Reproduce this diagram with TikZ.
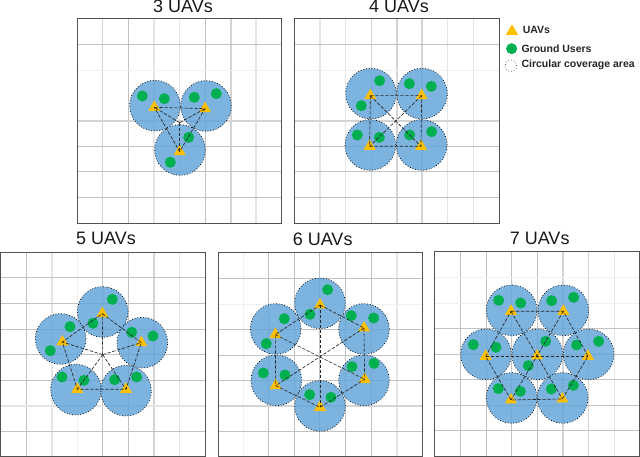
\documentclass[tikz,border=0pt]{standalone}
\usepackage{fontspec}
\setmainfont{Liberation Sans}
\usetikzlibrary{shapes.geometric}
\definecolor{covfill}{RGB}{96,163,217}
\definecolor{uavcol}{RGB}{255,192,0}
\definecolor{usercol}{RGB}{0,176,80}
\tikzset{
  gdark/.style={draw=black!24,line width=.9pt},
  gmid/.style={draw=black!17,line width=1.1pt},
  glight/.style={draw=black!10,line width=1.1pt},
  gfaint/.style={draw=black!6,line width=.8pt},
  panelframe/.style={draw=black!68,line width=.9pt},
  cover/.style={circle,draw=black,dotted,line width=.75pt,fill=covfill,fill opacity=.82,minimum size=50.7pt,inner sep=0pt},
  uav/.style={regular polygon,regular polygon sides=3,fill=uavcol,minimum size=14pt,inner sep=0pt},
  gnduser/.style={circle,fill=usercol,minimum size=11pt,inner sep=0pt},
  link/.style={draw=black!85,dashed,dash pattern=on 3.4pt off 1.6pt,line width=.65pt},
  title/.style={font=\fontsize{18}{20}\selectfont,text=black!90,inner sep=0pt},
  legendtext/.style={font=\bfseries\fontsize{10.5}{12}\selectfont,text=black!85,anchor=west,inner sep=0pt},
}
\begin{document}
\begin{tikzpicture}[x=1pt,y=-1pt]
\useasboundingbox (0,0) rectangle (640,457);
\fill[white] (0,0) rectangle (640,457);

% ---- 3 UAVs
\begin{scope}[shift={(70,0)},x=.3333pt,y=-.3333pt]
\node[title] (t3) at (339,20) {3 UAVs};
\foreach \v/\s in {98/gmid,175/gdark,252/glight,329/glight,406/gdark,483/gmid,558/glight}
  \draw[\s] (\v,55) -- (\v,670);
\foreach \v/\s in {133/gdark,211/gfaint,363/gmid,440/gdark,515/gdark,592/gdark}
  \draw[\s] (22,\v) -- (635,\v);
\draw[panelframe] (22,55) rectangle (635,670);
\foreach \n/\x/\y in {1/255/317,2/408/318,3/330/450}
  \node[cover] (c3\n) at (\x,\y) {};
\foreach \n/\x/\y in {1/217/288,2/283/296,3/373/292,4/439/281,5/356/412,6/301/487}
  \node[gnduser] (g3\n) at (\x,\y) {};
\foreach \n/\x/\y in {1/253/322,2/405/326,3/329/455}
  \node[uav] (u3\n) at (\x,\y) {};
\coordinate (m3) at (329,368);
\draw[link] (u31.center) -- (u32.center) -- (u33.center) -- (u31.center);
\foreach \n in {1,2,3} \draw[link] (m3) -- (u3\n.center);
\end{scope}

% ---- 4 UAVs
\begin{scope}[shift={(290,0)},x=.3333pt,y=-.3333pt]
\node[title] (t4) at (327,20) {4 UAVs};
\foreach \v/\s in {90/glight,167/glight,244/gmid,321/gmid,396/gmid,473/glight,550/glight}
  \draw[\s] (\v,55) -- (\v,670);
\foreach \v/\s in {133/gdark,211/gfaint,363/gmid,440/gdark,515/gdark,592/gdark}
  \draw[\s] (13,\v) -- (628,\v);
\draw[panelframe] (13,55) rectangle (628,670);
\foreach \n/\x/\y in {1/243/281,2/396/281,3/241/435,4/395/435}
  \node[cover] (c4\n) at (\x,\y) {};
\foreach \n/\x/\y in {1/269/242,2/358/251,3/424/259,4/214/317,5/202/405,6/268/412,7/359/405,8/425/395}
  \node[gnduser] (g4\n) at (\x,\y) {};
\foreach \n/\x/\y in {1/241/287,2/395/287,3/239/439,4/393/439}
  \node[uav] (u4\n) at (\x,\y) {};
\draw[link] (u41.center) -- (u42.center) -- (u44.center) -- (u43.center) -- (u41.center);
\draw[link] (u41.center) -- (u44.center);
\draw[link] (u42.center) -- (u43.center);
% legend
\node[uav] (lu) at (666,94) {};
\node[legendtext] (lut) at (698,91) {UAVs};
\node[gnduser] (lg) at (665,146) {};
\node[legendtext] (lgt) at (694,146) {Ground Users};
\node[circle,draw=black!70,dotted,line width=.7pt,minimum size=11.4pt,inner sep=0pt] (lc) at (663,197) {};
\node[legendtext] (lct) at (694,195) {Circular coverage area};
\end{scope}

% ---- 5 UAVs
\begin{scope}[shift={(0,228)},x=.3333pt,y=-.3333pt]
\node[title] (t5) at (318,31) {5 UAVs};
\foreach \v/\s in {79/gdark,156/glight,232/gfaint,308/gdark,386/gdark,462/gmid,539/glight}
  \draw[\s] (\v,72) -- (\v,685);
\foreach \v/\s in {149/gdark,226/gdark,304/gdark,380/gdark,457/gdark,534/glight,611/gdark}
  \draw[\s] (2,\v) -- (615,\v);
\draw[panelframe] (2,72) rectangle (615,685);
\foreach \n/\x/\y in {1/308/252,2/182/333,3/427/344,4/228/485,5/378/488}
  \node[cover] (c5\n) at (\x,\y) {};
\foreach \n/\x/\y in {1/337/214,2/279/286,3/210/296,4/151/368,5/395/313,6/459/324,7/186/447,8/252/457,9/344/455,10/410/447}
  \node[gnduser] (g5\n) at (\x,\y) {};
\foreach \n/\x/\y in {1/307/257,2/187/342,3/424/344,4/232/484,5/378/484}
  \node[uav] (u5\n) at (\x,\y) {};
\coordinate (m5) at (308,380);
\draw[link] (u51.center) -- (u53.center) -- (u55.center) -- (u54.center) -- (u52.center) -- (u51.center);
\foreach \n in {1,...,5} \draw[link] (m5) -- (u5\n.center);
\end{scope}

% ---- 6 UAVs
\begin{scope}[shift={(215,228)},x=.3333pt,y=-.3333pt]
\node[title] (t6) at (323,34) {6 UAVs};
\foreach \v/\s in {84/gfaint,161/gdark,238/gdark,314/gdark,392/gdark,469/gdark,546/glight}
  \draw[\s] (\v,73) -- (\v,686);
\foreach \v/\s in {152/gdark,229/gfaint,305/gdark,382/gdark,457/gdark,534/gmid,610/gdark}
  \draw[\s] (9,\v) -- (621,\v);
\draw[panelframe] (9,73) rectangle (621,686);
\foreach \n/\x/\y in {1/315/226,2/182/303,3/447/303,4/184/457,5/447/457,6/315/534}
  \node[cover] (c6\n) at (\x,\y) {};
\foreach \n/\x/\y in {1/338/185,2/285/259,3/208/272,4/154/347,5/409/263,6/476/270,7/145/435,8/210/441,9/411/416,10/477/406,11/284/500,12/348/508}
  \node[gnduser] (g6\n) at (\x,\y) {};
\foreach \n/\x/\y in {1/315/231,2/181/320,3/447/300,4/182/473,5/449/454,6/315/538}
  \node[uav] (u6\n) at (\x,\y) {};
\draw[link] (u61.center) -- (u63.center) -- (u65.center) -- (u66.center) -- (u64.center) -- (u62.center) -- (u61.center);
\draw[link] (u61.center) -- (u66.center);
\draw[link] (u62.center) -- (u65.center);
\draw[link] (u63.center) -- (u64.center);
\end{scope}

% ---- 7 UAVs
\begin{scope}[shift={(430,228)},x=.3333pt,y=-.3333pt]
\node[title] (t7) at (329,32) {7 UAVs};
\foreach \v/\s in {92/gdark,169/gdark,245/gdark,322/gdark,399/gmid,476/gmid,553/glight}
  \draw[\s] (\v,71) -- (\v,684);
\foreach \v/\s in {149/gfaint,226/gfaint,301/gdark,379/gdark,455/gdark,531/gdark,608/gdark}
  \draw[\s] (14,\v) -- (628,\v);
\draw[panelframe] (14,71) rectangle (628,684);
\foreach \n/\x/\y in {1/245/247,2/400/247,3/168/379,4/322/379,5/476/379,6/245/510,7/398/510}
  \node[cover] (c7\n) at (\x,\y) {};
\foreach \n/\x/\y in {1/206/217,2/272/225,3/365/218,4/431/208,5/130/350,6/198/358,7/347/340,8/295/413,9/440/351,10/506/340,11/205/482,12/271/490,13/364/483,14/430/472}
  \node[gnduser] (g7\n) at (\x,\y) {};
\foreach \n/\x/\y in {1/243/250,2/400/250,3/167/385,4/321/384,5/474/385,6/243/516,7/397/513}
  \node[uav] (u7\n) at (\x,\y) {};
\draw[link] (u71.center) -- (u72.center) -- (u75.center) -- (u77.center) -- (u76.center) -- (u73.center) -- (u71.center);
\draw[link] (u71.center) -- (u77.center);
\draw[link] (u72.center) -- (u76.center);
\draw[link] (u73.center) -- (u75.center);
\end{scope}
\end{tikzpicture}
\end{document}
